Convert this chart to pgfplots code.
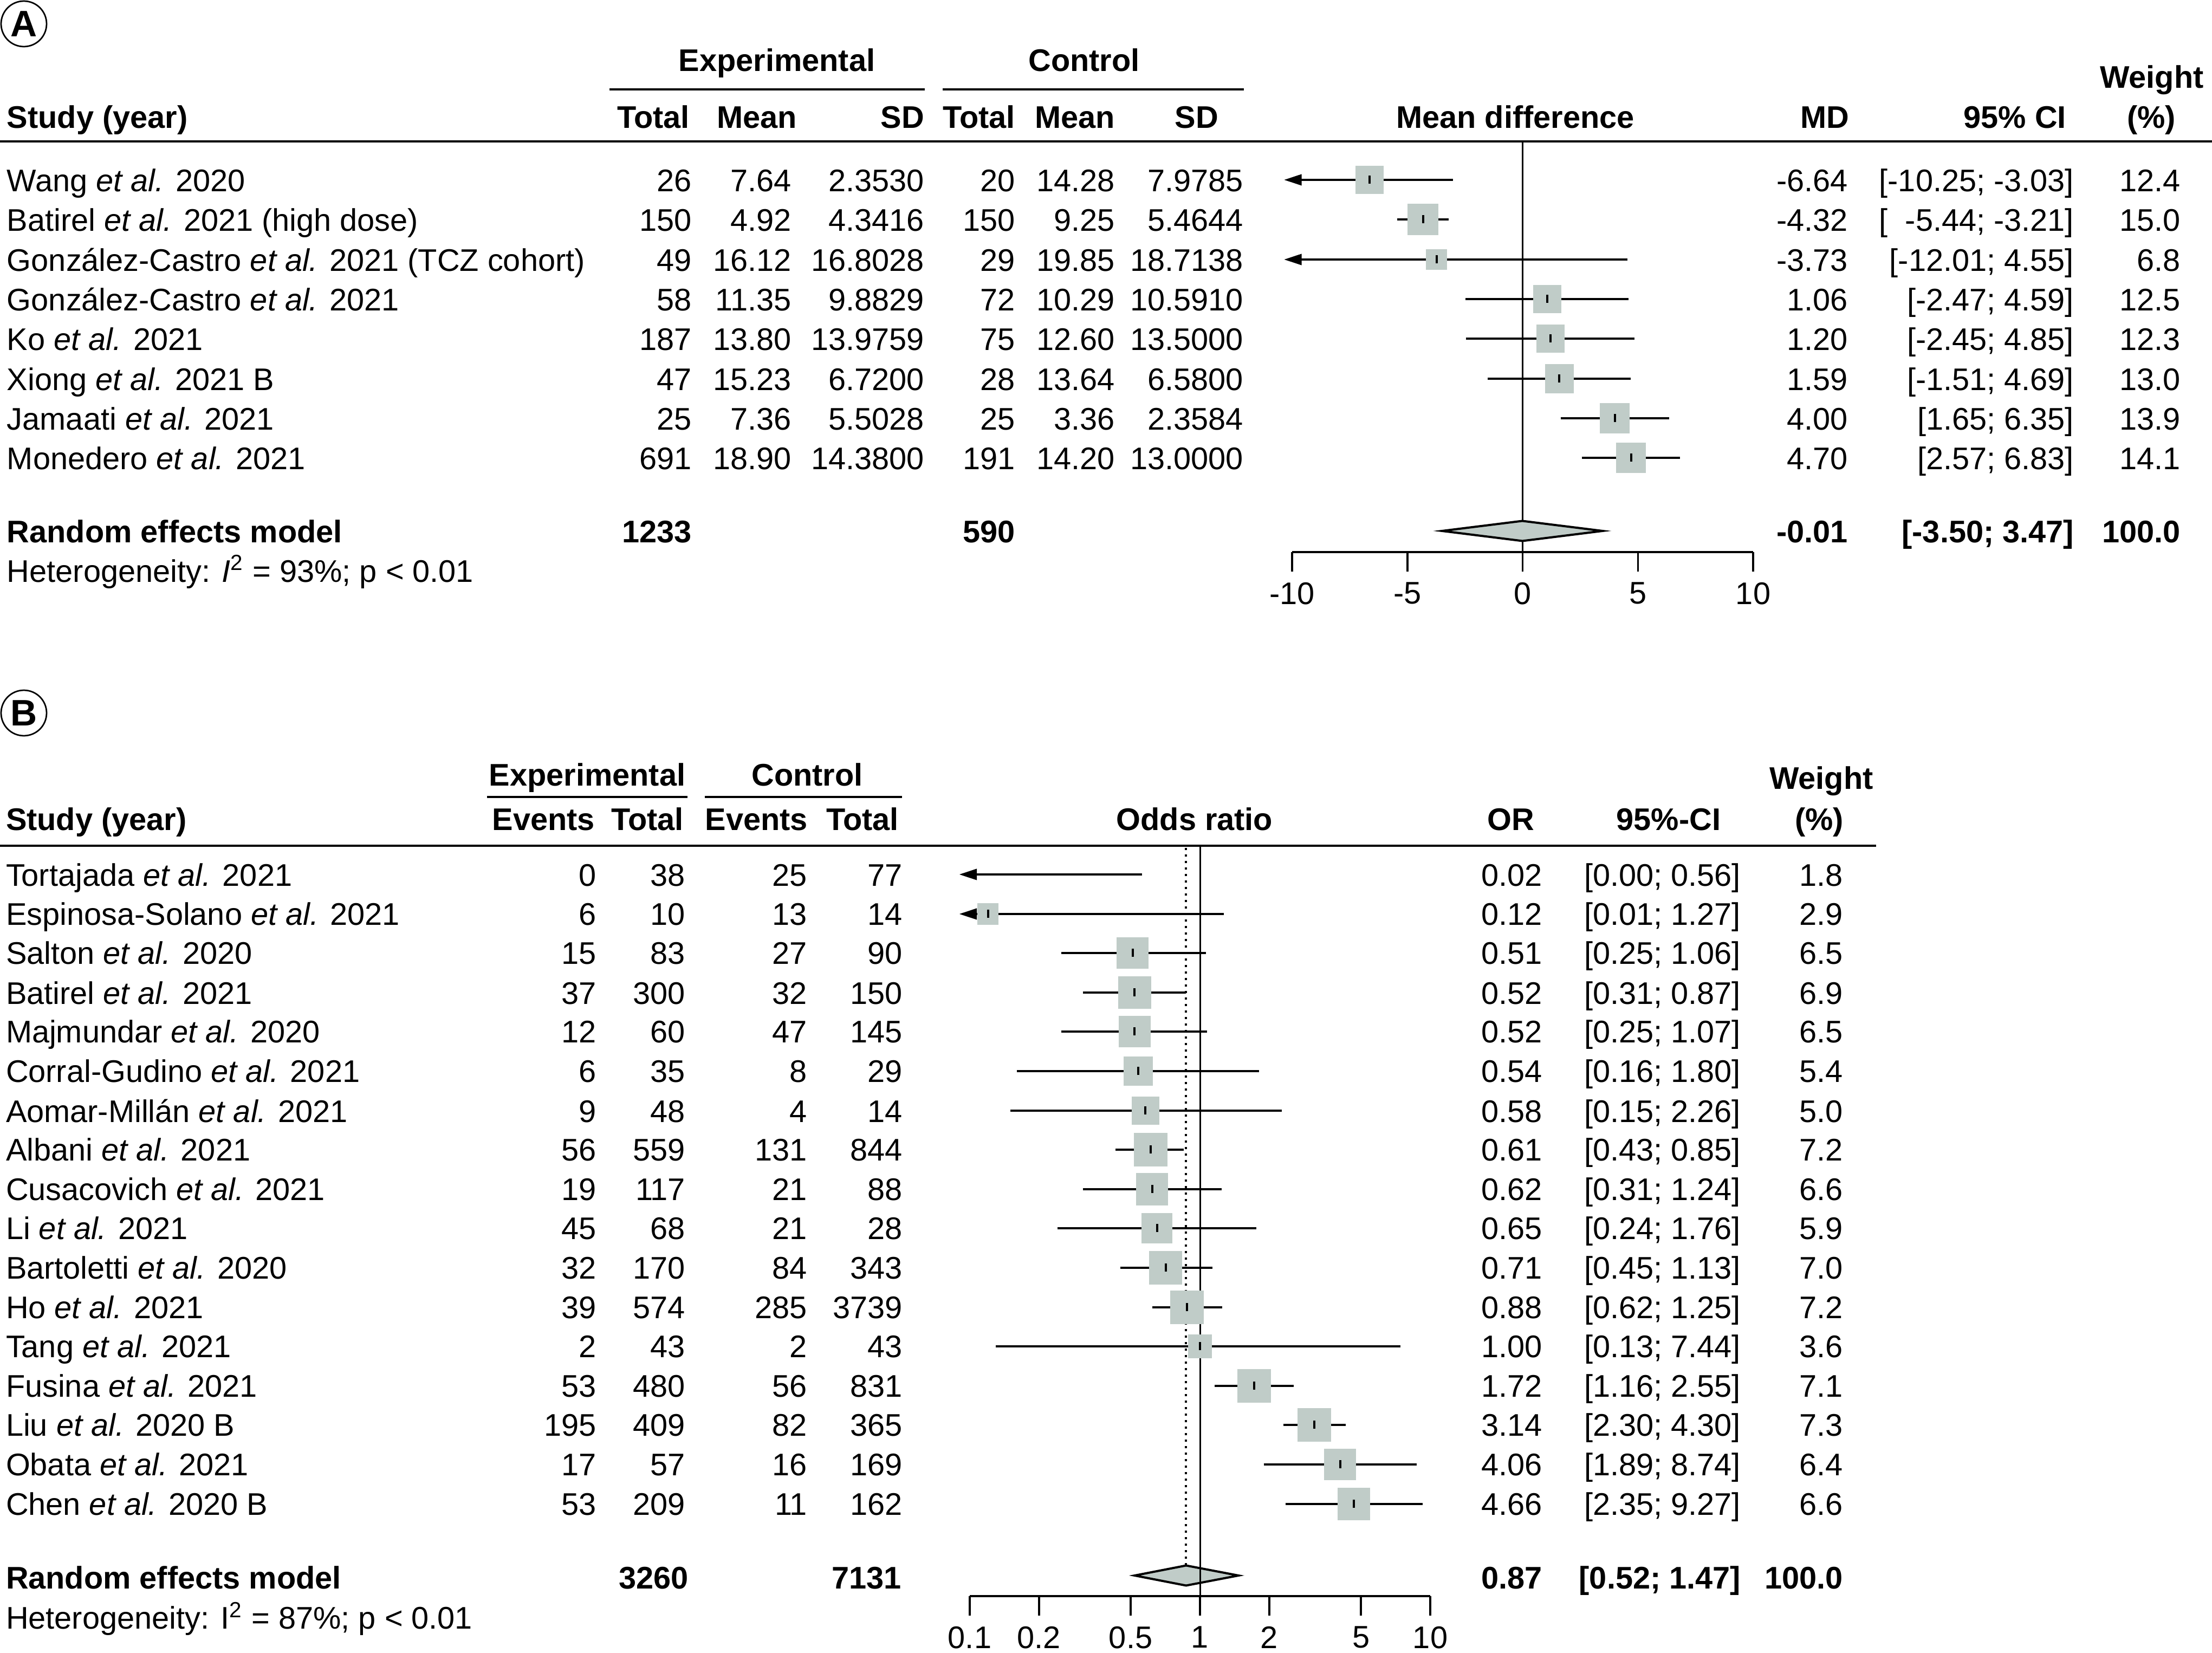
\documentclass[border=0pt]{standalone}
\usepackage{fontspec}
\setmainfont{Liberation Sans}
\usepackage{pgfplots}
\pgfplotsset{compat=1.18}
\usetikzlibrary{arrows.meta}
\definecolor{sqgray}{RGB}{192,204,200}

% 1 px of the reference = 0.2pt
\tikzset{
  re/.style={anchor=base east, inner sep=0pt},
  le/.style={anchor=base west, inner sep=0pt},
  ce/.style={anchor=base, inner sep=0pt},
}
\pgfplotsset{
  forest/.style={
    scale only axis, clip=false,
    axis x line*=bottom, axis y line=none,
    axis line style={-, line width=0.7pt},
    tick align=outside, major tick length=7.2pt,
    tick style={line width=0.7pt, black},
    minor xtick={}, ytick=\empty,
  },
  ci/.style={line width=0.8pt, black, unbounded coords=jump},
  est/.style={only marks, mark=|, mark size=1.5pt, mark options={line width=0.8pt, black}},
  sq/.style={scatter, only marks, mark=square*,
    mark options={draw=sqgray, fill=sqgray, line width=0pt},
    scatter/use mapped color={draw=sqgray, fill=sqgray}},
}

\begin{document}
\fontsize{11.54pt}{14pt}\selectfont
\begin{tikzpicture}
\path[use as bounding box] (0,0) rectangle (816.6pt,610.2pt);

\begin{scope}[x=0.2pt,y=0.2pt]
% ---------- panel A ----------
\draw[line width=0.55pt] (44,3007) circle (42);
\node[inner sep=0pt, font=\fontsize{13.6pt}{14pt}\selectfont\bfseries] at (44,3007) {A};
\begin{scope}[font=\bfseries]
\node[ce] at (1434,2920) {Experimental};
\node[ce] at (2001,2920) {Control};
\node[le] at (12,2815) {Study (year)};
\node[re] at (1274,2815) {Total};
\node[re] at (1472,2815) {Mean};
\node[re] at (1707,2815) {SD};
\node[re] at (1875,2815) {Total};
\node[re] at (2059,2815) {Mean};
\node[re] at (2250,2815) {SD};
\node[ce] at (2797,2815) {Mean difference};
\node[re] at (3414,2815) {MD};
\node[re] at (3815,2815) {95\% CI};
\node[ce] at (3972,2889) {Weight};
\node[ce] at (3971,2815) {(\%)};
\end{scope}
\draw[line width=0.8pt] (1125,2886) -- (1707,2886);
\draw[line width=0.8pt] (1740,2886) -- (2296,2886);
\draw[line width=0.8pt] (0,2790) -- (4083,2790);

\foreach \yy/\nm/\xa/\xb/\xc/\xd/\xe/\xf/\vmd/\vci/\vw in {
  2698/{Wang \textit{et al.} 2020}/26/7.64/2.3530/20/14.28/7.9785/-6.64/{[-10.25; -3.03]}/12.4,
  2625/{Batirel \textit{et al.} 2021 (high dose)}/150/4.92/4.3416/150/9.25/5.4644/-4.32/{[\hphantom{1}-5.44; -3.21]}/15.0,
  2551/{González-Castro \textit{et al.} 2021 (TCZ cohort)}/49/16.12/16.8028/29/19.85/18.7138/-3.73/{[-12.01; 4.55]}/6.8,
  2478/{González-Castro \textit{et al.} 2021}/58/11.35/9.8829/72/10.29/10.5910/1.06/{[-2.47; 4.59]}/12.5,
  2405/{Ko \textit{et al.} 2021}/187/13.80/13.9759/75/12.60/13.5000/1.20/{[-2.45; 4.85]}/12.3,
  2331/{Xiong \textit{et al.} 2021 B}/47/15.23/6.7200/28/13.64/6.5800/1.59/{[-1.51; 4.69]}/13.0,
  2258/{Jamaati \textit{et al.} 2021}/25/7.36/5.5028/25/3.36/2.3584/4.00/{[1.65; 6.35]}/13.9,
  2185/{Monedero \textit{et al.} 2021}/691/18.90/14.3800/191/14.20/13.0000/4.70/{[2.57; 6.83]}/14.1}{
  \node[le] at (12,\yy) {\nm};
  \node[re] at (1278,\yy) {\xa};
  \node[re] at (1462,\yy) {\xb};
  \node[re] at (1707,\yy) {\xc};
  \node[re] at (1875,\yy) {\xd};
  \node[re] at (2059,\yy) {\xe};
  \node[re] at (2296,\yy) {\xf};
  \node[re] at (3412,\yy) {\vmd};
  \node[re] at (3829,\yy) {\vci};
  \node[re] at (4026,\yy) {\vw};
}
\begin{scope}[font=\bfseries]
\node[le] at (12,2050) {Random effects model};
\node[re] at (1278,2050) {1233};
\node[re] at (1875,2050) {590};
\node[re] at (3412,2050) {-0.01};
\node[re] at (3829,2050) {[-3.50; 3.47]};
\node[re] at (4026,2050) {100.0};
\end{scope}
\node[le] at (12,1977) {Heterogeneity: \textit{I}\textsuperscript{2} = 93\%; p < 0.01};

% ---------- panel B ----------
\draw[line width=0.55pt] (44,1735) circle (42);
\node[inner sep=0pt, font=\fontsize{13.6pt}{14pt}\selectfont\bfseries] at (44,1735) {B};
\begin{scope}[font=\bfseries]
\node[ce] at (1084,1601) {Experimental};
\node[ce] at (1490,1601) {Control};
\node[le] at (10,1519) {Study (year)};
\node[re] at (1099,1519) {Events};
\node[re] at (1263,1519) {Total};
\node[re] at (1492,1519) {Events};
\node[re] at (1660,1519) {Total};
\node[ce] at (2205,1519) {Odds ratio};
\node[re] at (2833,1519) {OR};
\node[ce] at (3080,1519) {95\%-CI};
\node[ce] at (3362,1595) {Weight};
\node[ce] at (3358,1519) {(\%)};
\end{scope}
\draw[line width=0.8pt] (899,1580) -- (1269,1580);
\draw[line width=0.8pt] (1301,1580) -- (1665,1580);
\draw[line width=0.8pt] (0,1490) -- (3463,1490);

\foreach \yy/\nm/\xa/\xb/\xc/\xd/\vor/\vci/\vw in {
  1416/{Tortajada \textit{et al.} 2021}/0/38/25/77/0.02/{[0.00; 0.56]}/1.8,
  1343/{Espinosa-Solano \textit{et al.} 2021}/6/10/13/14/0.12/{[0.01; 1.27]}/2.9,
  1271/{Salton \textit{et al.} 2020}/15/83/27/90/0.51/{[0.25; 1.06]}/6.5,
  1198/{Batirel \textit{et al.} 2021}/37/300/32/150/0.52/{[0.31; 0.87]}/6.9,
  1126/{Majmundar \textit{et al.} 2020}/12/60/47/145/0.52/{[0.25; 1.07]}/6.5,
  1053/{Corral-Gudino \textit{et al.} 2021}/6/35/8/29/0.54/{[0.16; 1.80]}/5.4,
  980/{Aomar-Millán \textit{et al.} 2021}/9/48/4/14/0.58/{[0.15; 2.26]}/5.0,
  908/{Albani \textit{et al.} 2021}/56/559/131/844/0.61/{[0.43; 0.85]}/7.2,
  835/{Cusacovich \textit{et al.} 2021}/19/117/21/88/0.62/{[0.31; 1.24]}/6.6,
  763/{Li \textit{et al.} 2021}/45/68/21/28/0.65/{[0.24; 1.76]}/5.9,
  690/{Bartoletti \textit{et al.} 2020}/32/170/84/343/0.71/{[0.45; 1.13]}/7.0,
  617/{Ho \textit{et al.} 2021}/39/574/285/3739/0.88/{[0.62; 1.25]}/7.2,
  545/{Tang \textit{et al.} 2021}/2/43/2/43/1.00/{[0.13; 7.44]}/3.6,
  472/{Fusina \textit{et al.} 2021}/53/480/56/831/1.72/{[1.16; 2.55]}/7.1,
  400/{Liu \textit{et al.} 2020 B}/195/409/82/365/3.14/{[2.30; 4.30]}/7.3,
  327/{Obata \textit{et al.} 2021}/17/57/16/169/4.06/{[1.89; 8.74]}/6.4,
  254/{Chen \textit{et al.} 2020 B}/53/209/11/162/4.66/{[2.35; 9.27]}/6.6}{
  \node[le] at (10,\yy) {\nm};
  \node[re] at (1102,\yy) {\xa};
  \node[re] at (1266,\yy) {\xb};
  \node[re] at (1491,\yy) {\xc};
  \node[re] at (1667,\yy) {\xd};
  \node[re] at (2848,\yy) {\vor};
  \node[re] at (3214,\yy) {\vci};
  \node[re] at (3403,\yy) {\vw};
}
\begin{scope}[font=\bfseries]
\node[le] at (10,118) {Random effects model};
\node[re] at (1272,118) {3260};
\node[re] at (1665,118) {7131};
\node[re] at (2848,118) {0.87};
\node[re] at (3214,118) {[0.52; 1.47]};
\node[re] at (3403,118) {100.0};
\end{scope}
\node[le] at (10,44) {Heterogeneity: I\textsuperscript{2} = 87\%; p < 0.01};
\end{scope}

% ---------- forest plot A: mean difference ----------
\begin{axis}[forest,
  at={(477pt,406.4pt)}, anchor=south west,
  width=170.2pt, height=151.6pt,
  xmin=-10, xmax=10, ymin=2032, ymax=2790,
  xtick={-10,-5,0,5,10}, xticklabels={-10,-5,0,5,10},
]
\addplot[line width=0.6pt, black] coordinates {(0,2032) (0,2790)};
% squares: area proportional to weight
\addplot[sq,
  visualization depends on={1.45*sqrt(\thisrow{w}) \as \ms},
  scatter/@pre marker code/.append style={/tikz/mark size=\ms}]
  table[x=md, y=y] {
  y     md     w
  2719 -6.64  12.4
  2646 -4.32  15.0
  2572 -3.73  6.8
  2499  1.06  12.5
  2426  1.20  12.3
  2352  1.59  13.0
  2279  4.00  13.9
  2206  4.70  14.1
};
\addplot[ci] table {
  x      y
  -5.44  2646
  -3.21  2646
  nan    nan
  -2.47  2499
   4.59  2499
  nan    nan
  -2.45  2426
   4.85  2426
  nan    nan
  -1.51  2352
   4.69  2352
  nan    nan
   1.65  2279
   6.35  2279
  nan    nan
   2.57  2206
   6.83  2206
};
% intervals running past the left limit
\addplot[ci, -{Triangle[length=6.5pt, width=4pt]}] coordinates {(-3.03,2719) (-10.35,2719)};
\addplot[ci, -{Triangle[length=6.5pt, width=4pt]}] coordinates {(4.55,2572) (-10.35,2572)};
\addplot[est] coordinates {(-6.64,2719) (-4.32,2646) (-3.73,2572) (1.06,2499)
  (1.20,2426) (1.59,2352) (4.00,2279) (4.70,2206)};
\addplot[fill=sqgray, draw=black, line width=0.8pt] coordinates
  {(-3.50,2071) (-0.01,2089.5) (3.47,2071) (-0.01,2052.5)} -- cycle;
\end{axis}

% ---------- forest plot B: odds ratio ----------
\begin{axis}[forest, xmode=log,
  at={(358pt,21pt)}, anchor=south west,
  width=170pt, height=277pt,
  xmin=0.1, xmax=10, ymin=105, ymax=1490,
  xtick={0.1,0.2,0.5,1,2,5,10}, xticklabels={0.1,0.2,0.5,1,2,5,10},
]
\addplot[line width=0.8pt, black, dash pattern=on 0.8pt off 1.6pt] coordinates {(0.87,161.5) (0.87,1490)};
\addplot[sq,
  visualization depends on={2.27*sqrt(\thisrow{w}) \as \ms},
  scatter/@pre marker code/.append style={/tikz/mark size=\ms}]
  table[x=or, y=y] {
  y     or    w
  1364  0.12  2.9
  1292  0.51  6.5
  1219  0.52  6.9
  1147  0.52  6.5
  1074  0.54  5.4
  1001  0.58  5.0
  929   0.61  7.2
  856   0.62  6.6
  784   0.65  5.9
  711   0.71  7.0
  638   0.88  7.2
  566   1.00  3.6
  493   1.72  7.1
  421   3.14  7.3
  348   4.06  6.4
  275   4.66  6.6
};
\addplot[ci] table {
  x     y
  0.25  1292
  1.06  1292
  nan   nan
  0.31  1219
  0.87  1219
  nan   nan
  0.25  1147
  1.07  1147
  nan   nan
  0.16  1074
  1.80  1074
  nan   nan
  0.15  1001
  2.26  1001
  nan   nan
  0.43  929
  0.85  929
  nan   nan
  0.31  856
  1.24  856
  nan   nan
  0.24  784
  1.76  784
  nan   nan
  0.45  711
  1.13  711
  nan   nan
  0.62  638
  1.25  638
  nan   nan
  0.13  566
  7.44  566
  nan   nan
  1.16  493
  2.55  493
  nan   nan
  2.30  421
  4.30  421
  nan   nan
  1.89  348
  8.74  348
  nan   nan
  2.35  275
  9.27  275
};
\addplot[ci, -{Triangle[length=6.5pt, width=4pt]}] coordinates {(0.56,1437) (0.09,1437)};
\addplot[ci, -{Triangle[length=6.5pt, width=4pt]}] coordinates {(1.27,1364) (0.09,1364)};
\addplot[est] coordinates {(0.12,1364) (0.51,1292) (0.52,1219) (0.52,1147) (0.54,1074)
  (0.58,1001) (0.61,929) (0.62,856) (0.65,784) (0.71,711) (0.88,638) (1.00,566)
  (1.72,493) (3.14,421) (4.06,348) (4.66,275)};
\addplot[fill=sqgray, draw=black, line width=0.8pt] coordinates
  {(0.52,143) (0.87,161.5) (1.47,143) (0.87,124.5)} -- cycle;
\addplot[line width=0.6pt, black] coordinates {(1,105) (1,1490)};
\end{axis}
\end{tikzpicture}
\end{document}
